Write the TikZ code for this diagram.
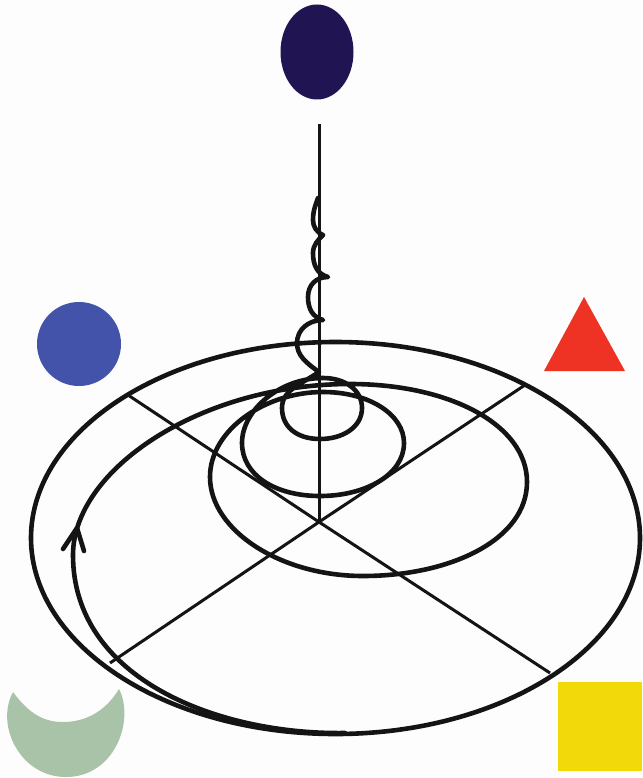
\documentclass[tikz,border=0pt]{standalone}
\definecolor{paper}{HTML}{FDFDFD}
\definecolor{navyegg}{HTML}{211452}
\definecolor{bluedisc}{HTML}{4253A9}
\definecolor{redtri}{HTML}{EE3224}
\definecolor{yellowsq}{HTML}{F2DA0A}
\definecolor{moongreen}{HTML}{A8C3A8}
\definecolor{ink}{HTML}{141414}
\tikzset{
  heavy/.style={draw=ink,line width=4.6pt,line join=round,line cap=round},
  axisline/.style={draw=ink,line width=3pt},
}
\begin{document}
\begin{tikzpicture}[x=1pt,y=-1pt]
\useasboundingbox (0,0) rectangle (642,778);
\fill[paper] (0,0) rectangle (642,778);
\fill[navyegg] (317,52) ellipse [x radius=36.5, y radius=47.5];
\fill[bluedisc] (79,344) circle [radius=42];
\fill[redtri] (584,297) -- (544,371) -- (625,371) -- cycle;
\fill[yellowsq] (558,682) rectangle (642,771);
\fill[moongreen] (119,689) .. controls (135,720) and (115,777) .. (66,777)
  .. controls (20,777) and (-5,725) .. (13,692)
  .. controls (30,715) and (45,722) .. (63,722)
  .. controls (85,722) and (105,712) .. (119,689) -- cycle;
\coordinate (hub) at (319,522);
\coordinate (top) at (319,124);
\coordinate (a1) at (128,395);
\coordinate (a2) at (550,673);
\coordinate (b1) at (525,385);
\coordinate (b2) at (110,663);
\draw[axisline] (top) -- (hub);
\draw[axisline] (a1) -- (hub) -- (a2);
\draw[axisline] (b1) -- (hub) -- (b2);
\draw[heavy] (335.5,538) ellipse [x radius=304.5, y radius=196];
\draw[heavy] (345,733)
 .. controls (220,735) and (73,680) .. (73,555)
 .. controls (73,470) and (200,384) .. (350,384)
 .. controls (450,384) and (527,425) .. (527,482)
 .. controls (527,540) and (450,576) .. (363,576)
 .. controls (280,576) and (210,530) .. (210,477)
 .. controls (210,430) and (265,392) .. (323,392)
 .. controls (370,392) and (404,415) .. (404,443)
 .. controls (404,475) and (365,496) .. (320,496)
 .. controls (275,496) and (242,475) .. (242,443)
 .. controls (242,410) and (280,378) .. (323,378)
 .. controls (345,378) and (362,390) .. (362,408)
 .. controls (362,427) and (343,439) .. (320,439)
 .. controls (297,439) and (282,427) .. (282,408)
 .. controls (282,390) and (300,385) .. (319,372)
 .. controls (305,362) and (297,355) .. (297,343)
 .. controls (297,330) and (308,320) .. (323,320)
 .. controls (312,317) and (308,308) .. (308,297)
 .. controls (308,285) and (316,277) .. (328,277)
 .. controls (317,274) and (313,265) .. (313,253)
 .. controls (313,245) and (318,240) .. (323,235)
 .. controls (316,232) and (313,226) .. (313,220)
 .. controls (313,210) and (316,204) .. (318,198);
\coordinate (tip) at (77,528);
\coordinate (barbL) at (63,549);
\coordinate (barbR) at (84,551);
\draw[heavy] (barbL) -- (tip) -- (barbR);
\end{tikzpicture}
\end{document}
